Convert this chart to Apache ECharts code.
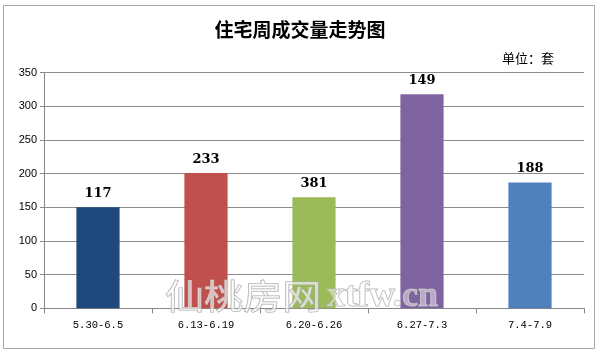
<!DOCTYPE html>
<html>
<head>
<meta charset="utf-8">
<script src="https://cdn.jsdelivr.net/npm/echarts@6/dist/echarts.min.js"></script>
<style>
html,body{margin:0;padding:0;background:#fff;}
#c{width:600px;height:355px;}
</style>
</head>
<body>
<div id="c"></div>
<script>
var categories = ['5.30-6.5', '6.13-6.19', '6.20-6.26', '6.27-7.3', '7.4-7.9'];
var barValues = [150, 201, 165, 318, 187];
var barLabels = ['117', '233', '381', '149', '188'];
var barColors = ['#1F497D', '#C0504D', '#9BBB59', '#8064A2', '#4F81BD'];
var yTicks = [0, 50, 100, 150, 200, 250, 300, 350];

var chart = echarts.init(document.getElementById('c'), null, {renderer: 'canvas'});
var option = {
  backgroundColor: '#fff',
  animation: false,
  title: [
    {
      text: '住宅周成交量走势图',
      left: 'center',
      top: 14,
      textStyle: {fontFamily: 'Noto Sans CJK SC', fontSize: 19, fontWeight: 'bold', color: '#000', lineHeight: 22}
    },
    {
      text: '单位：套',
      left: 497,
      top: 45,
      textStyle: {fontFamily: 'Noto Sans CJK SC', fontSize: 13, fontWeight: 'normal', color: '#000', lineHeight: 16}
    }
  ],
  grid: {left: 44, right: 16, top: 72.7, bottom: 46.7, containLabel: false},
  xAxis: {
    type: 'category',
    data: categories,
    axisLine: {lineStyle: {color: '#868686', width: 1}},
    axisTick: {show: true, length: 5, alignWithLabel: false, lineStyle: {color: '#868686'}},
    axisLabel: {fontFamily: 'Liberation Mono', fontSize: 10.5, color: '#000', margin: 11}
  },
  yAxis: {
    type: 'value',
    min: 0,
    max: yTicks[yTicks.length - 1],
    interval: yTicks[1] - yTicks[0],
    axisLine: {show: true, lineStyle: {color: '#868686', width: 1}},
    axisTick: {show: true, length: 4, lineStyle: {color: '#868686'}},
    axisLabel: {fontFamily: 'Liberation Sans', fontSize: 11, color: '#000', margin: 7},
    splitLine: {show: true, lineStyle: {color: '#8c8c8c', width: 1}}
  },
  series: [{
    type: 'bar',
    barWidth: '40%',
    data: barValues.map(function (v, i) {
      return {value: v, itemStyle: {color: barColors[i]}};
    }),
    label: {
      show: true,
      position: 'top',
      distance: 7,
      fontFamily: 'DejaVu Serif',
      fontWeight: 'bold',
      fontSize: 13,
      color: '#000',
      formatter: function (p) { return barLabels[p.dataIndex]; }
    }
  }],
  graphic: [
    {
      type: 'rect',
      shape: {x: 3.5, y: 5.5, width: 591, height: 343},
      style: {fill: 'none', stroke: '#a6a6a6', lineWidth: 1},
      silent: true
    },
    {
      type: 'text',
      x: 165, y: 296,
      scaleX: 1.15,
      originX: 0, originY: 0,
      style: {
        text: '仙桃房网',
        fontFamily: 'Noto Sans CJK SC',
        fontSize: 34,
        fill: 'rgba(255,255,255,0.6)',
        stroke: '#a8a8a8',
        lineWidth: 1,
        textAlign: 'left',
        textVerticalAlign: 'middle'
      },
      z: 100,
      silent: true
    },
    {
      type: 'text',
      x: 327, y: 297,
      style: {
        text: 'xtfw.cn',
        fontFamily: 'Liberation Serif',
        fontWeight: 'bold',
        fontSize: 36,
        fill: 'rgba(255,255,255,0.45)',
        stroke: '#b0b0b0',
        lineWidth: 1,
        textAlign: 'left',
        textVerticalAlign: 'middle'
      },
      z: 100,
      silent: true
    }
  ]
};
chart.setOption(option);
</script>
</body>
</html>
